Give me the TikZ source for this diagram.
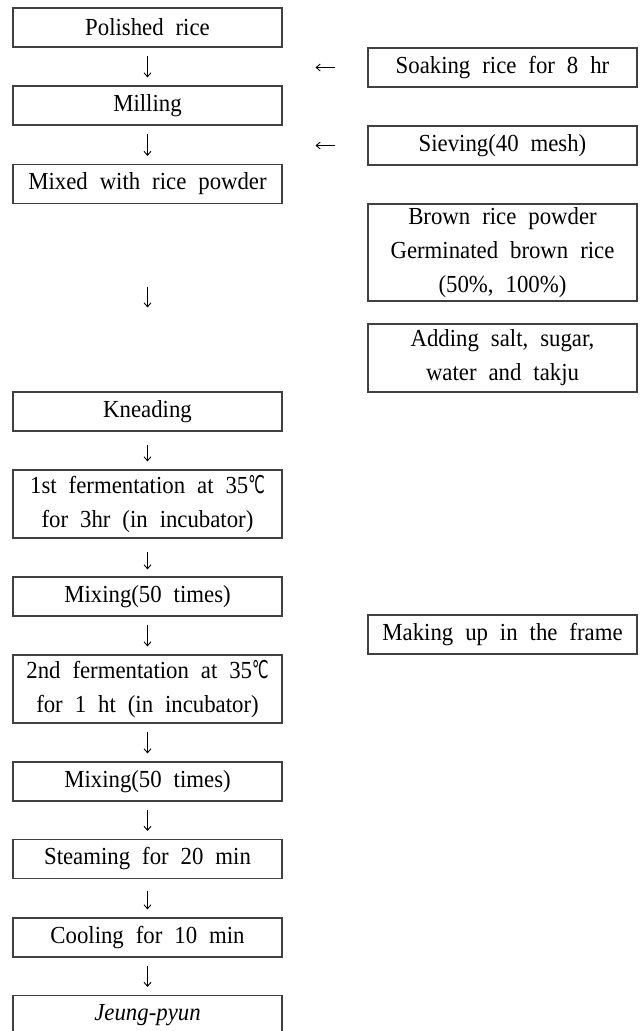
\documentclass[tikz,border=0pt]{standalone}
\usepackage{fontspec}
\setmainfont{Liberation Serif}[WordSpace=2.1,FakeStretch=0.93]
\newfontfamily\degfont{DejaVu Sans}[Scale=1.0,FakeStretch=0.6]
\usetikzlibrary{arrows.meta}

\newcommand{\degc}{{\degfont ℃}}

\begin{document}
\begin{tikzpicture}[x=1pt,y=-1pt,
	stepbox/.style={draw=black!75,line width=1.1pt,minimum width=269pt,minimum height=39pt,
		inner sep=0pt,align=center,font=\fontsize{24.5}{34}\selectfont},
	flowarr/.style={-{Straight Barb[length=4pt,width=7pt]},line width=0.9pt,shorten <=8pt,shorten >=8pt}]
	\clip (0,0) rectangle (640,1031);
	% main column
	\node[stepbox] (polished) at (147.5,27.5) {Polished rice};
	\node[stepbox] (milling) at (147.5,105.5) {Milling};
	\node[stepbox] (mixed) at (147.5,184) {Mixed with rice powder};
	\node[stepbox] (kneading) at (147.5,411.5) {Kneading};
	\node[stepbox,minimum height=68pt] (ferma) at (147.5,504) {1st fermentation at 35\degc\\for 3hr (in incubator)};
	\node[stepbox] (mixinga) at (147.5,596.5) {Mixing(50 times)};
	\node[stepbox,minimum height=68pt] (fermb) at (147.5,689) {2nd fermentation at 35\degc\\for 1 ht (in incubator)};
	\node[stepbox] (mixingb) at (147.5,781.5) {Mixing(50 times)};
	\node[stepbox] (steaming) at (147.5,859) {Steaming for 20 min};
	\node[stepbox] (cooling) at (147.5,937.5) {Cooling for 10 min};
	\node[stepbox] (jeung) at (147.5,1015) {\itshape Jeung-pyun};
	%
	% side column
	\node[stepbox] (soaking) at (502.5,67.5) {Soaking rice for 8 hr};
	\node[stepbox] (sieving) at (502.5,145.5) {Sieving(40 mesh)};
	\node[stepbox,minimum height=97pt] (brown) at (502.5,252.5) {Brown rice powder\\Germinated brown rice\\(50\%, 100\%)};
	\node[stepbox,minimum height=68pt] (adding) at (502.5,358) {Adding salt, sugar,\\water and takju};
	\node[stepbox] (frame) at (502.5,634.5) {Making up in the frame};
	%
	\draw[flowarr] (polished) -- (milling);
	\draw[flowarr] (milling) -- (mixed);
	\draw[flowarr,shorten <=82.5pt,shorten >=84pt] (mixed) -- (kneading);
	\draw[flowarr,shorten <=13pt,shorten >=8pt] (kneading) -- (ferma);
	\draw[flowarr,shorten <=13pt,shorten >=7pt] (ferma) -- (mixinga);
	\draw[flowarr] (mixinga) -- (fermb);
	\draw[flowarr] (fermb) -- (mixingb);
	\draw[flowarr] (mixingb) -- (steaming);
	\draw[flowarr,shorten <=12pt,shorten >=8pt] (steaming) -- (cooling);
	\draw[flowarr] (cooling) -- (jeung);
	\draw[flowarr,shorten <=32pt,shorten >=33pt] (soaking.west) -- (soaking.west -| milling.east);
	\draw[flowarr,shorten <=32pt,shorten >=33pt] (sieving.west) -- (sieving.west -| milling.east);
\end{tikzpicture}
\end{document}
